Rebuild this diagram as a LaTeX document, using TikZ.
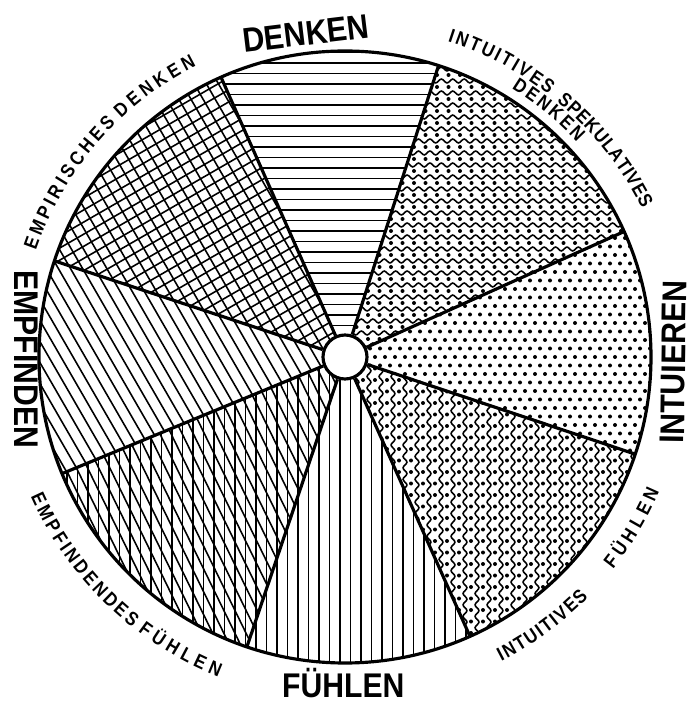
\documentclass[tikz,border=0pt]{standalone}
\usepackage{fontspec}
\usepackage{tikz}
\usetikzlibrary{decorations.text,decorations.pathmorphing}
\newfontfamily\lettering{Liberation Sans}[FakeStretch=0.88]

\newcommand{\biglbl}{\lettering\bfseries\fontsize{19.5}{22}\selectfont}
\newcommand{\smalllbl}{\lettering\bfseries\fontsize{11}{13}\selectfont}
\newcommand{\sectorclip}[2]{\clip (0,0) -- (#1:306) arc[start angle=#1, end angle=#2, radius=306] -- cycle;}

\tikzset{
  hatch/.style={line width=0.9pt},
  wavy/.style={line width=0.9pt, decorate, decoration={snake, amplitude=1.1pt, segment length=6.5pt}},
  spoke/.style={line width=1.8pt},
  biglabel/.style={font=\biglbl, inner sep=0pt, text height=14pt, text depth=0pt},
  arclabel/.style={decorate, decoration={text along path, text align={fit to path}, text={|\smalllbl|#1}}}
}

\begin{document}
\begin{tikzpicture}[x=0.02cm, y=0.02cm]
\useasboundingbox (-345,-345) rectangle (347,357);

% Denken: horizontal
\begin{scope}
  \sectorclip{72.2}{113.9}
  \foreach \y in {0,10.5,...,320} \draw[hatch] (-320,\y) -- (320,\y);
\end{scope}
% empirisches Denken: cross hatch
\begin{scope}
  \sectorclip{113.9}{161.7}
  \foreach \d in {-330,-319.5,...,330} {
    \draw[hatch, rotate=-60] (-330,\d) -- (330,\d);
    \draw[hatch, rotate=30] (-330,\d) -- (330,\d);
  }
\end{scope}
% Empfinden: diagonal
\begin{scope}
  \sectorclip{161.7}{202.4}
  \foreach \d in {-330,-319.5,...,330} \draw[hatch, rotate=-60] (-330,\d) -- (330,\d);
\end{scope}
% empfindendes Fuehlen: diagonal + vertical
\begin{scope}
  \sectorclip{202.4}{251.3}
  \foreach \d in {-330,-320,...,330} \draw[hatch, rotate=-64] (-330,\d) -- (330,\d);
  \foreach \x in {-320,-309.5,...,10} \draw[hatch] (\x,-320) -- (\x,10);
\end{scope}
% Fuehlen: vertical
\begin{scope}
  \sectorclip{251.3}{294.1}
  \foreach \x in {-320,-309.5,...,320} \draw[hatch] (\x,-320) -- (\x,10);
\end{scope}
% intuitives Fuehlen: wavy vertical + dots
\begin{scope}
  \sectorclip{-65.9}{-18.5}
  \foreach \x in {0,12,...,324} \draw[wavy] (\x,-320) -- (\x,10);
  \foreach \i in {0,...,27} \foreach \j in {0,...,28}
    \fill ({\i*12+6},{-\j*11.5}) circle (2);
\end{scope}
% Intuieren: dots
\begin{scope}
  \sectorclip{-18.5}{24.2}
  \foreach \i in {0,...,31} \foreach \j in {-14,...,17}
    \fill ({\i*10+Mod(\j,2)*5},{\j*8.5}) circle (2);
\end{scope}
% intuitives spekulatives Denken: wavy horizontal + dots
\begin{scope}
  \sectorclip{24.2}{72.2}
  \foreach \y in {0,12,...,324} \draw[wavy] (-10,\y) -- (320,\y);
  \foreach \i in {0,...,28} \foreach \j in {0,...,27}
    \fill ({\i*11.5},{\j*12+6}) circle (2);
\end{scope}

\draw[spoke] (0,0) circle (306);
\node[circle, draw, fill=white, line width=1.8pt, minimum size=0.88cm, inner sep=0pt] (hub) at (0,0) {};
\foreach \a [count=\i] in {113.9,72.2,24.2,-18.5,-65.9,-108.7,-157.6,161.7} {
  \coordinate (rim\i) at (\a:306);
  \draw[spoke] (hub) -- (rim\i);
}

\node[biglabel, rotate=6.9] (denken) at (96.9:326.5) {DENKEN};
\node[biglabel, rotate=89.1] (intuieren) at (-0.9:328) {INTUIEREN};
\node[biglabel] (fuehlen) at (-90.3:328) {FÜHLEN};
\node[biglabel, rotate=-90] (empfinden) at (180.4:318) {EMPFINDEN};

\path[arclabel=INTUITIVES] (72:332) arc[start angle=72, end angle=52.2, radius=332];
\path[arclabel=SPEKULATIVES] (50.4:332) arc[start angle=50.4, end angle=26.5, radius=332];
\path[arclabel=DENKEN] (58.2:316) arc[start angle=58.2, end angle=42.8, radius=316];
\path[arclabel=EMPIRISCHES] (161:327) arc[start angle=161, end angle=134.5, radius=327];
\path[arclabel=DENKEN] (133.2:327) arc[start angle=133.2, end angle=117, radius=327];
\path[arclabel=EMPFINDENDES] (204:344) arc[start angle=204, end angle=231.8, radius=344];
\path[arclabel=FÜHLEN] (233:344) arc[start angle=233, end angle=248.4, radius=344];
\path[arclabel=INTUITIVES] (-62.8:342) arc[start angle=-62.8, end angle=-44.6, radius=342];
\path[arclabel=FÜHLEN] (-38.4:342) arc[start angle=-38.4, end angle=-23.2, radius=342];
\end{tikzpicture}
\end{document}
